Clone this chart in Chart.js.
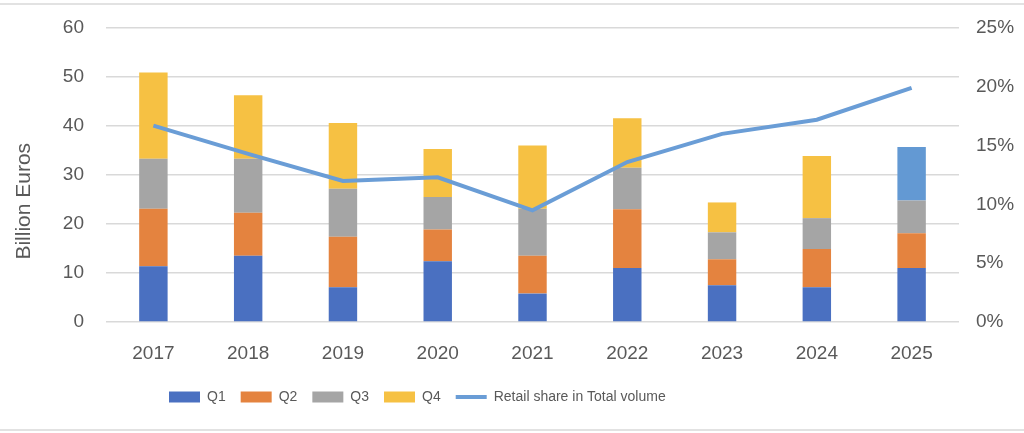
<!DOCTYPE html>
<html>
<head>
<meta charset="utf-8">
<script src="https://cdn.jsdelivr.net/npm/chart.js@4.4.1/dist/chart.umd.min.js"></script>
<style>
  html, body { margin: 0; padding: 0; background: #fff; }
  #wrap { position: relative; width: 1024px; height: 433px; overflow: hidden; }
  .rule { position: absolute; left: 0; width: 1024px; height: 2px; background: #e2e2e2; }
</style>
</head>
<body>
<div id="wrap">
  <canvas id="retailChart" width="1024" height="433"></canvas>
  <div class="rule" style="top:3px"></div>
  <div class="rule" style="top:429px"></div>
</div>
<script>
const years = ["2017", "2018", "2019", "2020", "2021", "2022", "2023", "2024", "2025"]
const q1 = [11.4, 13.5, 7.1, 12.4, 5.8, 11.0, 7.5, 7.1, 11.0]
const q2 = [11.7, 8.8, 10.3, 6.5, 7.7, 12.0, 5.3, 7.8, 7.1]
const q3 = [10.2, 11.0, 9.8, 6.6, 9.6, 8.5, 5.5, 6.3, 6.7]
const q4 = [17.6, 13.0, 13.4, 9.8, 12.9, 10.1, 6.1, 12.7, 10.9]
const retailShare = [16.7, 14.3, 12.0, 12.3, 9.5, 13.6, 16.0, 17.2, 19.9]
const leftTicks = [0, 10, 20, 30, 40, 50, 60]
const rightTicks = [0, 5, 10, 15, 20, 25]

const colQ1 = "#4a70c1"
const colQ2 = "#e4833f"
const colQ3 = "#a5a5a5"
const colQ4 = "#f6c143"
const colQ4Last = "#6399d3"
const colLine = "#6a9dd6"
const textGrey = "#595959"

// last year's Q4 is shown in a lighter blue
const q4Colors = years.map((y, i) => (i === years.length - 1 ? colQ4Last : colQ4))

function barSet(label, data, color) {
  return {
    type: "bar",
    label: label,
    data: data,
    backgroundColor: color,
    borderWidth: 0,
    stack: "q",
    yAxisID: "y",
    order: 1,
    barPercentage: 0.3,
    categoryPercentage: 1.0,
  }
}

const legendShift = {
  id: "legendShift",
  afterLayout(chart) {
    const lg = chart.legend
    const w = lg.right - lg.left
    lg.left = 154
    lg.right = 154 + w
  },
}

function fixWidth(w) {
  return (scale) => {
    scale.width = w
    scale.paddingTop = 0
    scale.paddingBottom = 0
  }
}

const ctx = document.getElementById("retailChart").getContext("2d")
new Chart(ctx, {
  data: {
    labels: years,
    datasets: [
      barSet("Q1", q1, colQ1),
      barSet("Q2", q2, colQ2),
      barSet("Q3", q3, colQ3),
      barSet("Q4", q4, q4Colors),
      {
        type: "line",
        label: "Retail share in Total volume",
        data: retailShare,
        borderColor: colLine,
        backgroundColor: colLine,
        borderWidth: 4,
        pointRadius: 0,
        tension: 0,
        yAxisID: "y1",
        order: 0,
      },
    ],
  },
  options: {
    responsive: false,
    animation: false,
    devicePixelRatio: 1,
    layout: { padding: { top: 28, bottom: 19, left: 0, right: 0 } },
    font: { family: "'Liberation Sans', Arial, sans-serif" },
    plugins: {
      tooltip: { enabled: false },
      legend: {
        position: "bottom",
        align: "start",
        labels: {
          usePointStyle: true,
          pointStyleWidth: 31,
          boxHeight: 11,
          padding: 15,
          color: textGrey,
          font: { family: "'Liberation Sans', Arial, sans-serif", size: 14 },
          sort: (a, b) => a.datasetIndex - b.datasetIndex,
          generateLabels(chart) {
            const items = Chart.defaults.plugins.legend.labels.generateLabels(chart)
            const fills = [colQ1, colQ2, colQ3, colQ4]
            items.forEach((it) => {
              const ds = chart.data.datasets[it.datasetIndex]
              if (ds.type === "line") {
                it.pointStyle = "line"
                it.strokeStyle = colLine
                it.lineWidth = 4
              } else {
                it.pointStyle = "rect"
                it.fillStyle = fills[it.datasetIndex]
                it.strokeStyle = fills[it.datasetIndex]
                it.lineWidth = 0
              }
            })
            return items
          },
        },
      },
    },
    scales: {
      x: {
        stacked: true,
        grid: { display: false, drawTicks: false },
        border: { display: false },
        ticks: {
          color: textGrey,
          padding: 20,
          font: { family: "'Liberation Sans', Arial, sans-serif", size: 19 },
        },
        afterFit(scale) {
          scale.height = 53
        },
      },
      y: {
        stacked: true,
        position: "left",
        min: leftTicks[0],
        max: leftTicks[leftTicks.length - 1],
        grid: { color: "#d9d9d9", lineWidth: 1.5, drawTicks: false },
        border: { display: false },
        afterBuildTicks(scale) {
          scale.ticks = leftTicks.map((v) => ({ value: v }))
        },
        ticks: {
          color: textGrey,
          padding: 22,
          font: { family: "'Liberation Sans', Arial, sans-serif", size: 19 },
        },
        title: {
          display: true,
          text: "Billion Euros" + "\u00a0".repeat(9),
          color: textGrey,
          padding: { top: 12, bottom: 0 },
          font: { family: "'Liberation Sans', Arial, sans-serif", size: 21 },
        },
        afterFit: fixWidth(106),
      },
      y1: {
        position: "right",
        min: rightTicks[0],
        max: rightTicks[rightTicks.length - 1],
        grid: { display: false, drawTicks: false },
        border: { display: false },
        afterBuildTicks(scale) {
          scale.ticks = rightTicks.map((v) => ({ value: v }))
        },
        ticks: {
          color: textGrey,
          padding: 17,
          font: { family: "'Liberation Sans', Arial, sans-serif", size: 19 },
          callback: (v) => v + "%",
        },
        afterFit: fixWidth(65),
      },
    },
  },
  plugins: [legendShift],
})
</script>
</body>
</html>
